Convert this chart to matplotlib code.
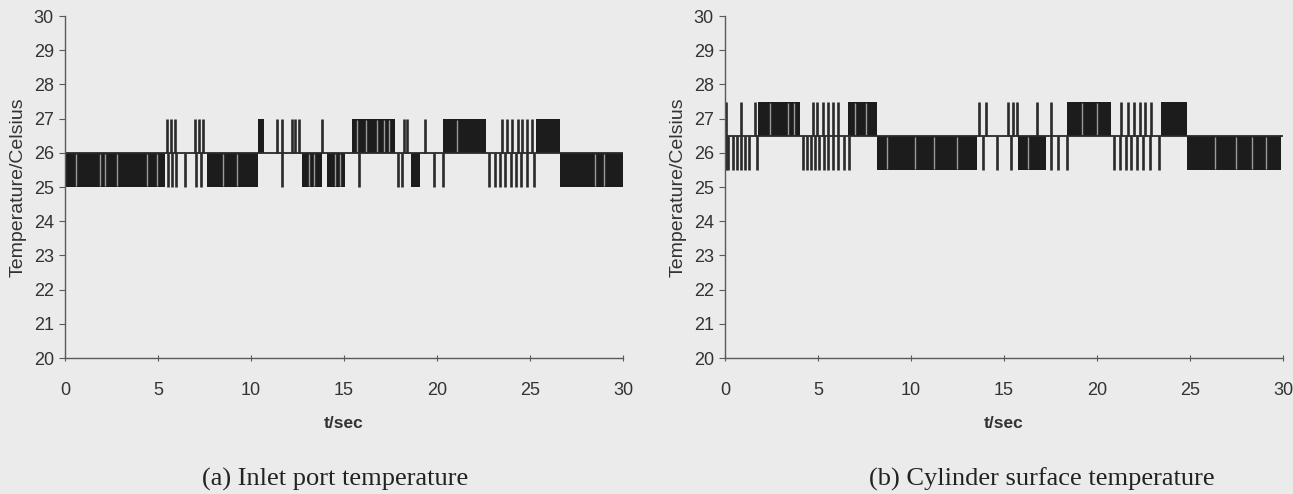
import matplotlib
matplotlib.use("Agg")
import matplotlib.pyplot as plt

# Inlet port (a): levels 25 / 26 / 27 degC
a_mid, a_low, a_high = 26.0, 25.0, 27.0
a_dense_low = [(0.0, 5.40), (7.62, 10.38), (12.72, 13.80), (14.10, 15.05),
               (18.59, 19.07), (26.60, 30.0)]
a_dense_high = [(10.38, 10.70), (15.42, 17.72), (20.32, 22.62), (25.31, 26.60)]
a_gaps_low = [0.59, 1.88, 2.15, 2.78, 4.39, 4.93, 8.51, 9.23, 13.10, 13.40,
              14.50, 14.80, 28.50, 29.00]
a_gaps_high = [15.70, 16.19, 16.76, 17.15, 17.43, 21.10]
a_spikes_up = [5.47, 5.68, 5.91, 6.99, 7.20, 7.44, 11.38, 11.65, 12.19, 12.37,
               12.60, 13.80, 18.20, 18.39, 19.35, 23.48, 23.77, 24.06, 24.35,
               24.58, 24.83, 25.11]
a_spikes_down = [5.55, 5.75, 5.95, 6.45, 7.05, 7.30, 11.65, 15.80, 17.90, 18.10,
                 19.84, 20.30, 22.81, 23.10, 23.39, 23.68, 23.96, 24.25, 24.54,
                 24.83, 25.21]

# Cylinder surface (b): levels 25.5 / 26.5 / 27.5 degC
b_mid, b_low, b_high = 26.5, 25.5, 27.5
b_dense_low = [(8.17, 13.57), (15.75, 17.26), (24.86, 29.90)]
b_dense_high = [(1.79, 4.03), (6.60, 8.17), (18.40, 20.74), (23.42, 24.84)]
b_gaps_low = [8.73, 10.23, 11.24, 12.49, 16.30, 26.32, 27.45, 28.33, 29.10]
b_gaps_high = [2.40, 3.40, 3.70, 7.00, 7.60, 19.20, 20.00]
b_spikes_up = [0.05, 0.84, 1.61, 4.71, 4.96, 5.25, 5.56, 5.82, 6.09, 13.67,
               14.05, 15.21, 15.46, 15.71, 16.77, 17.52, 21.29, 21.67, 21.99,
               22.29, 22.60, 22.92]
b_spikes_down = [0.05, 0.18, 0.41, 0.63, 0.84, 1.08, 1.31, 1.70, 4.21, 4.39,
                 4.61, 4.84, 5.07, 5.32, 5.56, 5.82, 6.09, 6.40, 6.68, 13.87,
                 14.62, 15.38, 17.53, 17.90, 18.39, 20.90, 21.24, 21.54, 21.84,
                 22.17, 22.49, 22.85, 23.35]

y_ticks = list(range(20, 31))
x_ticks = [0, 5, 10, 15, 20, 25, 30]
captions = ["(a) Inlet port temperature", "(b) Cylinder surface temperature"]

BG = "#ebebeb"
INK = "#1c1c1c"
AX = "#5a5a5a"


def draw_panel(ax, mid, low, high, dense_low, dense_high, gaps_low, gaps_high,
               up, down):
    for t0, t1 in dense_low:
        ax.fill_between([t0, t1], low, mid, color=INK, lw=0)
    for t0, t1 in dense_high:
        ax.fill_between([t0, t1], mid, high, color=INK, lw=0)
    ax.vlines(gaps_low, low + 0.03, mid - 0.03, color="#9a9a9a", lw=1.0)
    ax.vlines(gaps_high, mid + 0.03, high - 0.03, color="#9a9a9a", lw=1.0)
    ax.vlines(up, mid, high, color="#2a2a2a", lw=1.9)
    ax.vlines(down, low, mid, color="#2a2a2a", lw=1.9)
    ax.hlines(mid, 0, 30, color="#2a2a2a", lw=1.3)

    ax.set_xlim(0, 30)
    ax.set_ylim(20, 30)
    ax.set_xticks(x_ticks)
    ax.set_yticks(y_ticks)
    ax.set_facecolor(BG)
    for s in ("top", "right"):
        ax.spines[s].set_visible(False)
    for s in ("left", "bottom"):
        ax.spines[s].set_color(AX)
        ax.spines[s].set_linewidth(1.0)
    ax.tick_params(axis="y", direction="out", length=4, color=AX,
                   labelsize=13, labelcolor="#333333", pad=4)
    ax.tick_params(axis="x", direction="inout", length=5, color=AX,
                   labelsize=13, labelcolor="#333333", pad=15)
    ax.set_xlabel("t/sec", fontsize=12.5, color="#333333", labelpad=12,
                  fontweight="bold")
    ax.set_ylabel("Temperature/Celsius", fontsize=14, color="#333333",
                  labelpad=5)


plt.rcParams["font.family"] = ["Liberation Sans", "DejaVu Sans"]

fig = plt.figure(figsize=(12.93, 4.94), dpi=100, facecolor=BG)
ax_a = fig.add_axes([0.0503, 0.2753, 0.4315, 0.6923])
ax_b = fig.add_axes([0.5607, 0.2753, 0.4316, 0.6923])

draw_panel(ax_a, a_mid, a_low, a_high, a_dense_low, a_dense_high,
           a_gaps_low, a_gaps_high, a_spikes_up, a_spikes_down)
draw_panel(ax_b, b_mid, b_low, b_high, b_dense_low, b_dense_high,
           b_gaps_low, b_gaps_high, b_spikes_up, b_spikes_down)

fig.text(335 / 1293, 1 - 479 / 494, captions[0], ha="center", va="center",
         fontsize=19, family="Liberation Serif", color="#222222")
fig.text(1042 / 1293, 1 - 479 / 494, captions[1], ha="center", va="center",
         fontsize=19, family="Liberation Serif", color="#222222")

fig.savefig("out.png", dpi=100, facecolor=BG)
